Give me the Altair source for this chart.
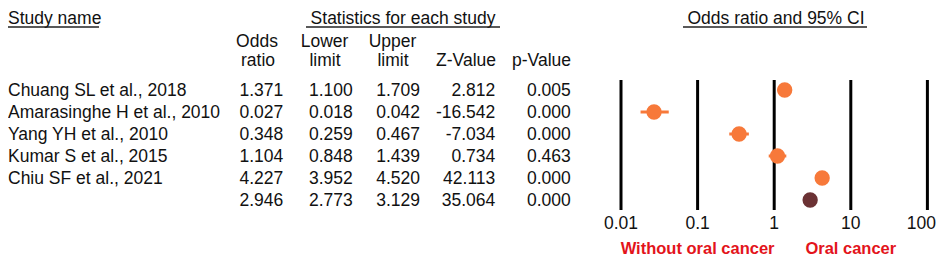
import altair as alt
import pandas as pd

# ---- data ----
studies = ["Chuang SL et al., 2018", "Amarasinghe H et al., 2010", "Yang YH et al., 2010",
           "Kumar S et al., 2015", "Chiu SF et al., 2021", ""]
odds = [1.371, 0.027, 0.348, 1.104, 4.227, 2.946]
lower = [1.100, 0.018, 0.259, 0.848, 3.952, 2.773]
upper = [1.709, 0.042, 0.467, 1.439, 4.520, 3.129]
zval = [2.812, -16.542, -7.034, 0.734, 42.113, 35.064]
pval = [0.005, 0.000, 0.000, 0.463, 0.000, 0.000]
kind = ["study", "study", "study", "study", "study", "summary"]

tick_values = [0.01, 0.1, 1, 10, 100]
tick_labels = ["0.01", "0.1", "1", "10", "100"]
side_values = [0.1, 10]
side_labels = ["Without oral cancer", "Oral cancer"]

df = pd.DataFrame({
    "row": list(range(len(studies))),
    "study": studies,
    "odds": odds, "lower": lower, "upper": upper,
    "or_s": [f"{v:.3f}" for v in odds],
    "lo_s": [f"{v:.3f}" for v in lower],
    "up_s": [f"{v:.3f}" for v in upper],
    "z_s": [f"{v:.3f}" for v in zval],
    "p_s": [f"{v:.3f}" for v in pval],
    "kind": kind,
})
ticks = pd.DataFrame({"t": tick_values, "lab": tick_labels})
sides = pd.DataFrame({"t": side_values, "lab": side_labels})

FONT = "Liberation Sans"
FS = 17.5
ORANGE = "#F7793A"
DARK = "#6B3234"
RED = "#E3141B"

yscale = alt.Scale(domain=[0, 5], range=[82, 192])
xscale = alt.Scale(type="log", domain=[0.01, 100], range=[613, 919.4])
Y = alt.Y("row:Q", scale=yscale, axis=None)
color = alt.Color("kind:N", scale=alt.Scale(domain=["study", "summary"], range=[ORANGE, DARK]), legend=None)

base = alt.Chart(df)

def col_text(field, xpos, align="right"):
    return base.mark_text(font=FONT, fontSize=FS, align=align, baseline="middle", dy=1.25,
                          color="#111").encode(x=alt.value(xpos), y=Y, text=f"{field}:N")

names = col_text("study", 0, "left")
c_or = col_text("or_s", 275.3)
c_lo = col_text("lo_s", 344.7)
c_up = col_text("up_s", 412)
c_z = col_text("z_s", 487.3)
c_p = col_text("p_s", 562.7)

def header(label, x, align, y, size=FS):
    return alt.Chart(pd.DataFrame({"lab": [label]})).mark_text(
        font=FONT, fontSize=size, align=align, baseline="alphabetic", color="#111"
    ).encode(x=alt.value(x), y=alt.value(y), text="lab:N")

HB = 15.5
headers = [
    header("Study name", 0, "left", HB),
    header("Statistics for each study", 395, "center", HB),
    header("Odds ratio and 95% CI", 768, "center", HB),
    header("Odds", 249, "center", 38.6), header("ratio", 250, "center", 58),
    header("Lower", 316.5, "center", 38.6), header("limit", 317, "center", 58),
    header("Upper", 384.5, "center", 38.6), header("limit", 385, "center", 58),
    header("Z-Value", 488, "right", 58), header("p-Value", 563, "right", 58),
]

def uline(x1, x2, y):
    return alt.Chart(pd.DataFrame({"a": [0]})).mark_rule(color="#222", strokeWidth=1.5).encode(
        x=alt.value(x1), x2=alt.value(x2), y=alt.value(y))

ulines = [uline(0, 91, 19), uline(298, 492, 19), uline(675, 859, 19)]

# forest plot
vlines = alt.Chart(ticks).mark_rule(color="black", strokeWidth=3).encode(
    x=alt.X("t:Q", scale=xscale, axis=None), y=alt.value(72), y2=alt.value(202))
tlabels = alt.Chart(ticks).transform_filter("datum.t < 100").mark_text(
    font=FONT, fontSize=FS, baseline="middle", color="#111").encode(
    x=alt.X("t:Q", scale=xscale, axis=None), y=alt.value(216.3), text="lab:N")
tlabel_last = alt.Chart(ticks).transform_filter("datum.t >= 100").mark_text(
    font=FONT, fontSize=FS, baseline="middle", color="#111", dx=-6).encode(
    x=alt.X("t:Q", scale=xscale, axis=None), y=alt.value(216.3), text="lab:N")
slabels = alt.Chart(sides).mark_text(font=FONT, fontSize=16.5, fontWeight="bold", baseline="middle",
                                     color=RED).encode(
    x=alt.X("t:Q", scale=xscale, axis=None), y=alt.value(241.3), text="lab:N")
ci = base.mark_rule(strokeWidth=3).encode(
    x=alt.X("lower:Q", scale=xscale, axis=None), x2="upper:Q", y=Y, color=color)
dots = base.mark_circle(size=235, opacity=1).encode(
    x=alt.X("odds:Q", scale=xscale, axis=None), y=Y, color=color)

chart = alt.layer(
    names, c_or, c_lo, c_up, c_z, c_p, *headers, *ulines,
    vlines, tlabels, tlabel_last, slabels, ci, dots
).properties(
    width=928, height=249, padding=0,
    autosize=alt.AutoSizeParams(type="none"),
    background="white",
).configure_view(stroke=None)

chart.save("out.html", embed_options={"renderer": "svg", "actions": False})
